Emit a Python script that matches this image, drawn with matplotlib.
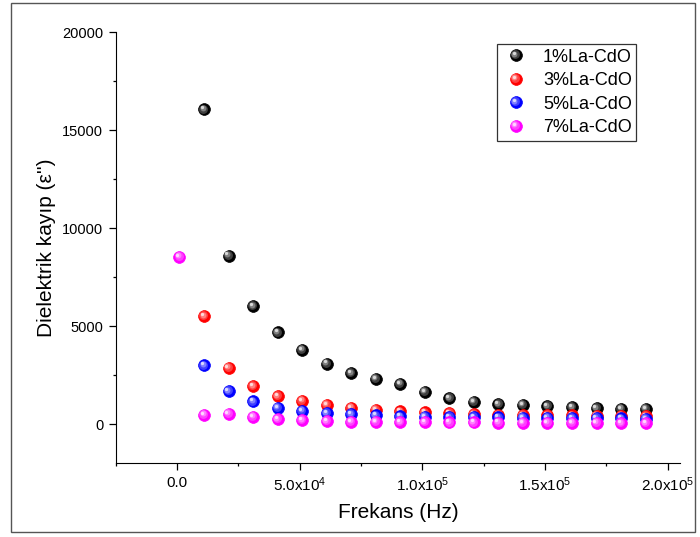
import numpy as np
import matplotlib
matplotlib.use("Agg")
import matplotlib.pyplot as plt
from matplotlib.ticker import MultipleLocator, FuncFormatter
from matplotlib.patches import Rectangle
from matplotlib.transforms import offset_copy
from matplotlib.lines import Line2D
from matplotlib.legend_handler import HandlerLine2D

plt.rcParams['font.family'] = ['Liberation Sans', 'DejaVu Sans']
plt.rcParams['mathtext.fontset'] = 'custom'
plt.rcParams['mathtext.rm'] = 'Liberation Sans'
plt.rcParams['mathtext.default'] = 'regular'

# frequency (Hz)
freq = [1000, 11000, 21000, 31000, 41000, 51000, 61000, 71000, 81000, 91000,
        101000, 111000, 121000, 131000, 141000, 151000, 161000, 171000, 181000, 191000]

# dielectric loss for each La doping ratio
la1 = [16050, 8600, 6020, 4680, 3790, 3090, 2600, 2320, 2050, 1640,
       1330, 1130, 1020, 990, 920, 870, 820, 790, 770]
la3 = [5510, 2870, 1930, 1430, 1180, 975, 840, 720, 650, 600,
       550, 510, 470, 460, 450, 440, 430, 420, 410]
la5 = [2990, 1675, 1160, 840, 685, 550, 500, 445, 395, 380,
       360, 350, 340, 330, 320, 310, 300, 290, 280]
la7 = [8535, 480, 530, 370, 250, 200, 150, 120, 110, 100,
       95, 90, 85, 80, 75, 70, 65, 60, 55, 50]

labels = ['1%La-CdO', '3%La-CdO', '5%La-CdO', '7%La-CdO']
colors = ['#000000', '#ff0000', '#0000ff', '#ff00ff']
series = [(freq[1:], la1), (freq[1:], la3), (freq[1:], la5), (freq, la7)]

MS = 8.5
# (size fraction, lightening, offset in points) for the sphere highlight layers
shade = [(0.75, 0.25, 0.6), (0.5, 0.5, 1.1), (0.28, 0.85, 1.5)]

fig = plt.figure(figsize=(7, 5.37), dpi=100)
ax = fig.add_axes([0.1653, 0.1372, 0.8061, 0.8032])

# border around the whole figure
fig.patches.append(Rectangle((11 / 700, 5 / 537), 684 / 700, 529 / 537,
                             transform=fig.transFigure, fill=False,
                             edgecolor='#555555', lw=1.0))


def lighten(c, f):
    rgb = np.array(matplotlib.colors.to_rgb(c))
    return tuple(rgb + (1 - rgb) * f)


def ball(ax, x, y, c, zorder=3, label=None):
    h = ax.plot(x, y, 'o', ms=MS, mfc=c, mec=c, mew=0.5, ls='none',
                zorder=zorder, label=label)
    for frac, lf, off in shade:
        tr = offset_copy(ax.transData, fig=fig, x=-off, y=off, units='points')
        ax.plot(x, y, 'o', ms=MS * frac, mfc=lighten(c, lf), mec='none',
                ls='none', transform=tr, zorder=zorder + 0.01)
    return h[0]


handles = []
for (x, y), c, lab, z in zip(series, colors, labels, [3, 4, 5, 6]):
    handles.append(ball(ax, x, y, c, zorder=z, label=lab))

ax.set_xlim(-25000, 205000)
ax.set_ylim(-2000, 20000)

ax.spines['top'].set_visible(False)
ax.spines['right'].set_visible(False)

ax.xaxis.set_major_locator(MultipleLocator(50000))
ax.xaxis.set_minor_locator(MultipleLocator(25000))
ax.yaxis.set_major_locator(MultipleLocator(5000))
ax.yaxis.set_minor_locator(MultipleLocator(2500))


def xfmt(v, pos):
    if v == 0:
        return '0.0'
    e = int(np.floor(np.log10(abs(v))))
    return '%.1fx10$^{%d}$' % (v / 10 ** e, e)


ax.xaxis.set_major_formatter(FuncFormatter(xfmt))
ax.tick_params(which='major', direction='out', length=5, width=0.9, labelsize=10.5, pad=4)
ax.tick_params(axis='x', which='major', labelsize=11)
ax.tick_params(which='minor', direction='out', length=2.5, width=0.9)

ax.set_xlabel('Frekans (Hz)', fontsize=15)
ax.set_ylabel("Dielektrik kayıp (ε'')", fontsize=15)
ax.xaxis.set_label_coords(0.5, -0.092)
ax.yaxis.set_label_coords(-0.106, 0.5)


class BallHandler(HandlerLine2D):
    def create_artists(self, legend, orig_handle, xdescent, ydescent, width, height, fontsize, trans):
        c = orig_handle.get_markerfacecolor()
        cx = width / 2 - xdescent
        cy = height / 2 - ydescent
        base = Line2D([cx], [cy], marker='o', ms=MS, mfc=c, mec=c, mew=0.5, ls='none')
        base.set_transform(trans)
        arts = [base]
        for frac, lf, off in shade:
            l = Line2D([cx - off], [cy + off], marker='o', ms=MS * frac,
                       mfc=lighten(c, lf), mec='none', ls='none')
            l.set_transform(trans)
            arts.append(l)
        return arts


leg = ax.legend(handles=handles, labels=labels, loc='upper left',
                bbox_to_anchor=(0.6757, 0.972), borderaxespad=0, fontsize=13,
                frameon=True, fancybox=False, edgecolor='black', handlelength=1.6,
                handletextpad=0.7, borderpad=0.25, labelspacing=0.36,
                handler_map={Line2D: BallHandler()})
leg.get_frame().set_linewidth(0.9)

fig.savefig('out.png', dpi=100)
